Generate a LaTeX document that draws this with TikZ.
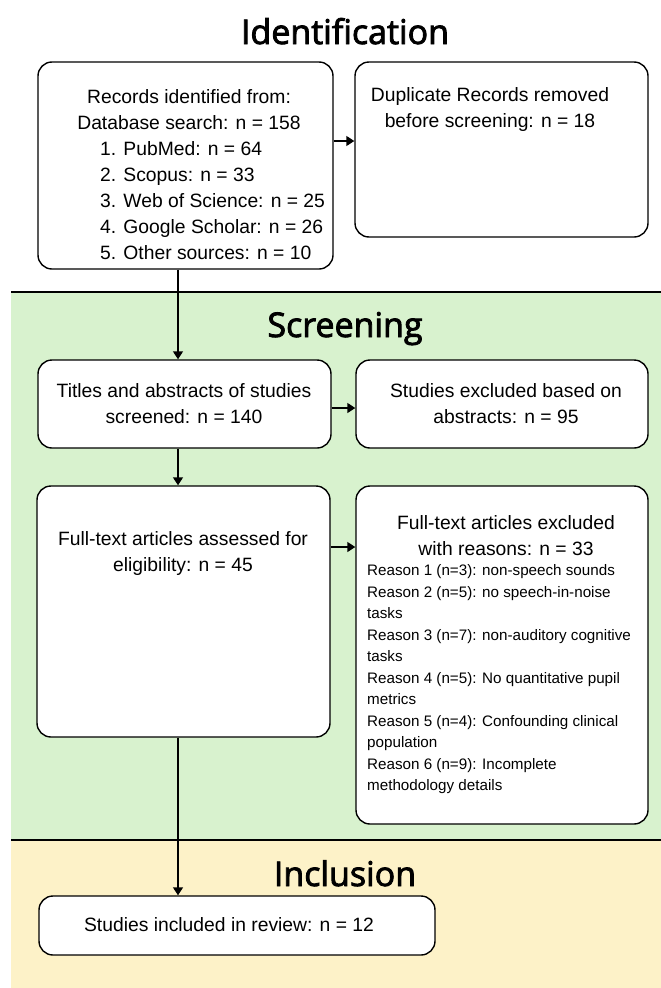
\documentclass[tikz,border=0pt]{standalone}
\usepackage{fontspec}
\setmainfont{Liberation Sans}
\newfontfamily\titlefont{Open Sans}[FakeBold=2.5]
\usetikzlibrary{arrows.meta,positioning}
\definecolor{screengreen}{RGB}{216,242,206}
\definecolor{inclyellow}{RGB}{253,242,200}
\tikzset{
  box/.style={rectangle, rounded corners=14pt, draw=black, line width=1.4pt, fill=white, inner sep=0pt},
  boxtext/.style={align=center, inner sep=0pt, font=\fontsize{19.3}{26}\selectfont},
  listtext/.style={align=left, inner sep=0pt, anchor=west, font=\fontsize{19.3}{26.2}\selectfont},
  reasontext/.style={align=left, inner sep=0pt, anchor=west, font=\fontsize{15.2}{21.5}\selectfont},
  stagetitle/.style={anchor=base, inner sep=0pt, font=\titlefont\fontsize{34}{40}\selectfont},
  arrow/.style={-{Triangle[length=8pt,width=10pt]}, line width=1.4pt},
  divider/.style={line width=2pt},
}

\begin{document}
\begin{tikzpicture}[x=1pt, y=-1pt]
\useasboundingbox (0,0) rectangle (661,988);
\fill[white] (0,0) rectangle (661,988);

% stage bands
\fill[screengreen] (11,292) rectangle (661,840);
\fill[inclyellow] (11,840) rectangle (661,988);
\draw[divider] (11,292) -- (661,292);
\draw[divider] (11,840) -- (661,840);

\node[stagetitle] (tident) at (345,44) {Identification};
\node[stagetitle] (tscreen) at (345,337) {Screening};
\node[stagetitle] (tincl) at (345,886) {Inclusion};

% boxes
\node[box, minimum width=295pt, minimum height=207pt] (rec) at (185.5,165.5) {};
\node[box, minimum width=293pt, minimum height=175pt] (dup) at (501.5,149.5) {};
\node[box, minimum width=293pt, minimum height=88pt] (scr) at (184.5,404) {};
\node[box, minimum width=292pt, minimum height=88pt] (exa) at (502,404) {};
\node[box, minimum width=293pt, minimum height=251pt] (ful) at (183.5,611.5) {};
\node[box, minimum width=292pt, minimum height=338pt] (exf) at (502,655) {};
\node[box, minimum width=396pt, minimum height=59pt] (inc) at (237,925.5) {};

% box texts
\node[boxtext] (rechead) at (189,110) {Records identified from:\\Database search: n = 158};
\node[listtext] (reclist) at (100,200.5) {1. PubMed: n = 64\\2. Scopus: n = 33\\3. Web of Science: n = 25\\4. Google Scholar: n = 26\\5. Other sources: n = 10};
\node[boxtext] (duptext) at (490,110) {Duplicate Records removed\\before screening: n = 18};
\node[boxtext] (scrtext) at (184,404) {Titles and abstracts of studies\\screened: n = 140};
\node[boxtext] (exatext) at (506,404) {Studies excluded based on\\abstracts: n = 95};
\node[boxtext] (fultext) at (183,553.5) {Full-text articles assessed for\\eligibility: n = 45};
\node[boxtext] (exfhead) at (506,535.5) {Full-text articles excluded\\with reasons: n = 33};
\node[reasontext] (exfreasons) at (367,679.5) {Reason 1 (n=3): non-speech sounds\\
Reason 2 (n=5): no speech-in-noise\\
tasks\\
Reason 3 (n=7): non-auditory cognitive\\
tasks\\
Reason 4 (n=5): No quantitative pupil\\
metrics\\
Reason 5 (n=4): Confounding clinical\\
population\\
Reason 6 (n=9): Incomplete\\
methodology details};
\node[boxtext] (inctext) at (229,925) {Studies included in review: n = 12};

% connectors
\coordinate (spine) at (178,0);
\coordinate (dupin) at ([yshift=8.5pt]dup.west);
\coordinate (exfin) at ([yshift=64.5pt]ful.east);
\draw[arrow] (rec.east |- dupin) -- (dupin);
\draw[arrow] ([yshift=-4pt]scr.east) -- ([yshift=-4pt]exa.west);
\draw[arrow] (exfin) -- (exf.west |- exfin);
\draw[arrow] (rec.south -| spine) -- (scr.north -| spine);
\draw[arrow] (scr.south -| spine) -- (ful.north -| spine);
\draw[arrow] (ful.south -| spine) -- (inc.north -| spine);
\end{tikzpicture}
\end{document}
